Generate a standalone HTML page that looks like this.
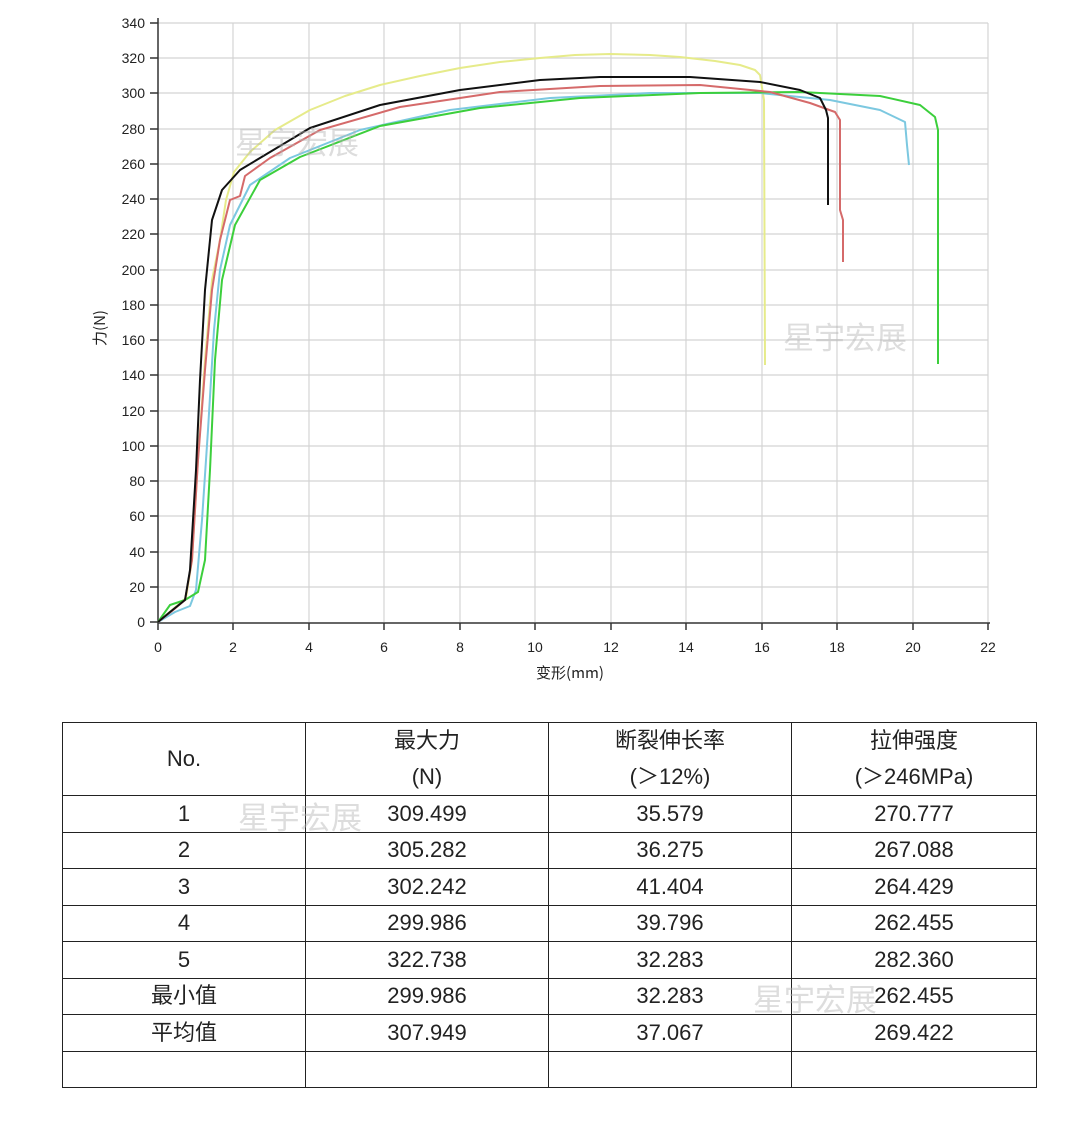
<!DOCTYPE html>
<html><head><meta charset="utf-8"><style>
body{margin:0;background:#fff;width:1080px;height:1124px;overflow:hidden;font-family:"Liberation Sans","Noto Sans CJK SC",sans-serif;}
svg{position:absolute;left:0;top:0}
table{position:absolute;left:62px;top:722px;border-collapse:collapse;width:975px;}
td{border:1.5px solid #222;text-align:center;font-size:22px;color:#222;height:35px;padding:0;line-height:26px;}
.wm{position:absolute;color:rgba(180,180,180,0.45);font-size:31px;font-family:"Noto Sans CJK SC",sans-serif;}
</style></head><body>
<svg width="1080" height="700" font-family="Liberation Sans, sans-serif">
<g stroke="#d4d4d4" stroke-width="1.2">
<line x1="158" y1="23" x2="988" y2="23"/><line x1="158" y1="58" x2="988" y2="58"/><line x1="158" y1="93" x2="988" y2="93"/><line x1="158" y1="129" x2="988" y2="129"/><line x1="158" y1="164" x2="988" y2="164"/><line x1="158" y1="199" x2="988" y2="199"/><line x1="158" y1="234" x2="988" y2="234"/><line x1="158" y1="270" x2="988" y2="270"/><line x1="158" y1="305" x2="988" y2="305"/><line x1="158" y1="340" x2="988" y2="340"/><line x1="158" y1="375" x2="988" y2="375"/><line x1="158" y1="411" x2="988" y2="411"/><line x1="158" y1="446" x2="988" y2="446"/><line x1="158" y1="481" x2="988" y2="481"/><line x1="158" y1="516" x2="988" y2="516"/><line x1="158" y1="552" x2="988" y2="552"/><line x1="158" y1="587" x2="988" y2="587"/>
<line x1="233" y1="23" x2="233" y2="622"/><line x1="309" y1="23" x2="309" y2="622"/><line x1="384" y1="23" x2="384" y2="622"/><line x1="460" y1="23" x2="460" y2="622"/><line x1="535" y1="23" x2="535" y2="622"/><line x1="611" y1="23" x2="611" y2="622"/><line x1="686" y1="23" x2="686" y2="622"/><line x1="762" y1="23" x2="762" y2="622"/><line x1="837" y1="23" x2="837" y2="622"/><line x1="913" y1="23" x2="913" y2="622"/><line x1="988" y1="23" x2="988" y2="622"/>
</g>
<line x1="158" y1="18" x2="158" y2="623" stroke="#333" stroke-width="1.5"/>
<line x1="158" y1="623" x2="990" y2="623" stroke="#333" stroke-width="1.5"/>
<g stroke="#333" stroke-width="1.5">
<line x1="150" y1="23" x2="158" y2="23"/><line x1="150" y1="58" x2="158" y2="58"/><line x1="150" y1="93" x2="158" y2="93"/><line x1="150" y1="129" x2="158" y2="129"/><line x1="150" y1="164" x2="158" y2="164"/><line x1="150" y1="199" x2="158" y2="199"/><line x1="150" y1="234" x2="158" y2="234"/><line x1="150" y1="270" x2="158" y2="270"/><line x1="150" y1="305" x2="158" y2="305"/><line x1="150" y1="340" x2="158" y2="340"/><line x1="150" y1="375" x2="158" y2="375"/><line x1="150" y1="411" x2="158" y2="411"/><line x1="150" y1="446" x2="158" y2="446"/><line x1="150" y1="481" x2="158" y2="481"/><line x1="150" y1="516" x2="158" y2="516"/><line x1="150" y1="552" x2="158" y2="552"/><line x1="150" y1="587" x2="158" y2="587"/><line x1="150" y1="622" x2="158" y2="622"/>
<line x1="158" y1="623" x2="158" y2="630"/><line x1="233" y1="623" x2="233" y2="630"/><line x1="309" y1="623" x2="309" y2="630"/><line x1="384" y1="623" x2="384" y2="630"/><line x1="460" y1="623" x2="460" y2="630"/><line x1="535" y1="623" x2="535" y2="630"/><line x1="611" y1="623" x2="611" y2="630"/><line x1="686" y1="623" x2="686" y2="630"/><line x1="762" y1="623" x2="762" y2="630"/><line x1="837" y1="623" x2="837" y2="630"/><line x1="913" y1="623" x2="913" y2="630"/><line x1="988" y1="623" x2="988" y2="630"/>
</g>
<g font-size="14" fill="#222" text-anchor="end">
<text x="145" y="28">340</text><text x="145" y="63">320</text><text x="145" y="98">300</text><text x="145" y="134">280</text><text x="145" y="169">260</text><text x="145" y="204">240</text><text x="145" y="239">220</text><text x="145" y="275">200</text><text x="145" y="310">180</text><text x="145" y="345">160</text><text x="145" y="380">140</text><text x="145" y="416">120</text><text x="145" y="451">100</text><text x="145" y="486">80</text><text x="145" y="521">60</text><text x="145" y="557">40</text><text x="145" y="592">20</text><text x="145" y="627">0</text>
</g>
<g font-size="14" fill="#222" text-anchor="middle">
<text x="158" y="652">0</text><text x="233" y="652">2</text><text x="309" y="652">4</text><text x="384" y="652">6</text><text x="460" y="652">8</text><text x="535" y="652">10</text><text x="611" y="652">12</text><text x="686" y="652">14</text><text x="762" y="652">16</text><text x="837" y="652">18</text><text x="913" y="652">20</text><text x="988" y="652">22</text>
<text x="570" y="678" font-family="Noto Sans CJK SC, sans-serif" font-size="15">变形(mm)</text>
<text transform="translate(105,328) rotate(-90)" font-family="Noto Sans CJK SC, sans-serif" font-size="15">力(N)</text>
</g>
<g fill="none" stroke-width="2" stroke-linejoin="round">
<polyline stroke="#e6eb8a" points="158,622 172,610 186,598 192,560 198,460 205,360 212,280 220,240 226,200 234,172 250,152 275,130 310,110 345,96 380,85 420,76 460,68 500,62 540,58 575,55 610,54 650,55 680,57 715,61 740,65 755,70 760,75 764,100 765,365"/>
<polyline stroke="#7cc8e0" points="158,622 175,612 190,606 196,590 202,520 208,430 214,330 220,270 230,225 250,185 290,158 360,130 450,110 550,98 650,93 760,93 830,100 880,110 905,122 907,145 909,165"/>
<polyline stroke="#3ccf3c" points="158,622 170,605 185,600 198,592 205,560 210,470 215,360 222,280 235,225 260,180 300,157 380,126 480,108 580,98 700,93 800,92 880,96 920,105 935,117 938,130 938,364"/>
<polyline stroke="#d56a6a" points="158,622 172,611 185,600 192,560 198,460 205,370 212,290 220,240 230,200 240,196 245,176 270,158 320,130 400,107 500,92 600,86 700,85 770,92 810,103 835,112 840,120 840,210 843,220 843,262"/>
<polyline stroke="#111" points="158,622 170,612 185,600 190,570 196,470 200,380 205,290 212,220 222,190 240,170 270,152 310,128 380,105 460,90 540,80 600,77 690,77 760,82 800,90 820,98 826,110 828,118 828,205"/>
</g>
</svg>
<div class="wm" style="left:235px;top:118px">星宇宏展</div>
<div class="wm" style="left:783px;top:313px">星宇宏展</div>
<table>
<tr><td style="width:242px;height:72px;line-height:36px">No.</td><td style="width:242px;line-height:36px">最大力<br>(N)</td><td style="width:242px;line-height:36px">断裂伸长率<br>(＞12%)</td><td style="line-height:36px">拉伸强度<br>(＞246MPa)</td></tr>
<tr><td style="height:35.5px">1</td><td>309.499</td><td>35.579</td><td>270.777</td></tr>
<tr><td style="height:35.5px">2</td><td>305.282</td><td>36.275</td><td>267.088</td></tr>
<tr><td style="height:35.5px">3</td><td>302.242</td><td>41.404</td><td>264.429</td></tr>
<tr><td style="height:35.5px">4</td><td>299.986</td><td>39.796</td><td>262.455</td></tr>
<tr><td style="height:35.5px">5</td><td>322.738</td><td>32.283</td><td>282.360</td></tr>
<tr><td style="height:35.5px">最小值</td><td>299.986</td><td>32.283</td><td>262.455</td></tr>
<tr><td style="height:35.5px">平均值</td><td>307.949</td><td>37.067</td><td>269.422</td></tr>
<tr><td style="height:35.5px"></td><td></td><td></td><td></td></tr>
</table>
<div class="wm" style="left:238px;top:793px">星宇宏展</div>
<div class="wm" style="left:753px;top:975px">星宇宏展</div>
</body></html>
